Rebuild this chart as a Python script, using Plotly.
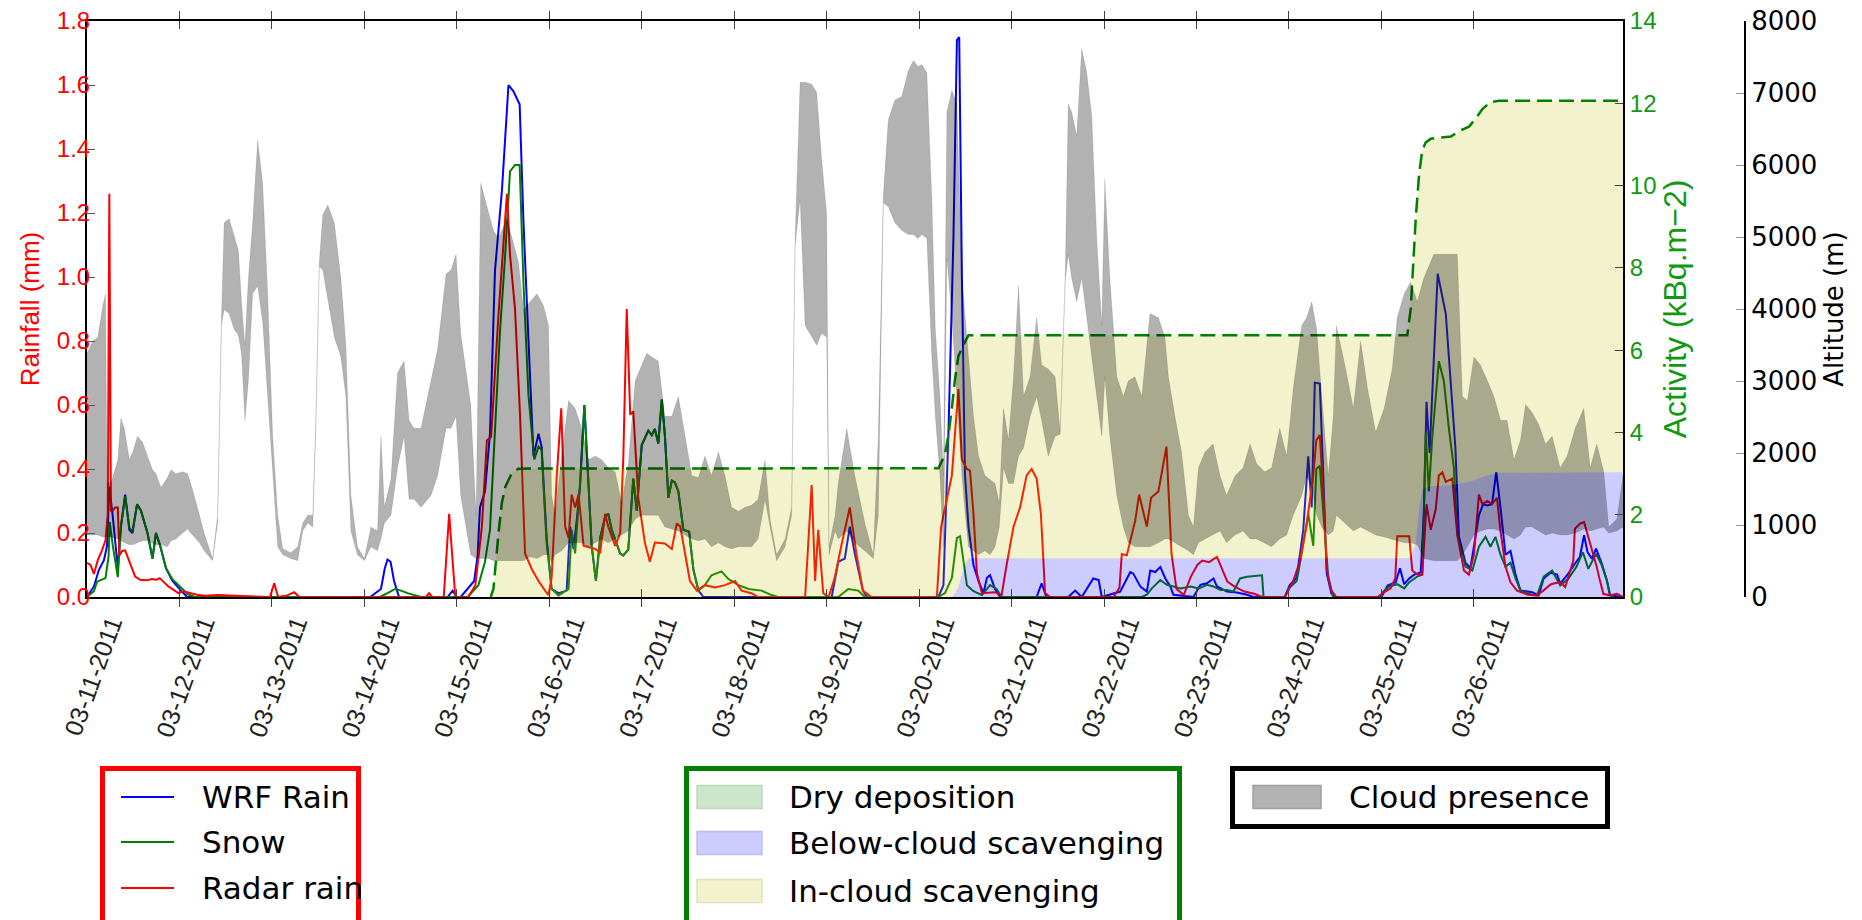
import pandas as pd
import plotly.graph_objects as go

START = pd.Timestamp("2011-03-11 00:00")
END_HOURS = 398.7

# ---------------- data (hours since 2011-03-11 00:00) ----------------
wrf_rain_hours = [
    0, 1.8, 3.1, 4.4, 5.2, 5.8, 6.7, 7.5, 8.0, 8.8, 9.9, 11.0, 11.8, 13.0, 14.0, 15.7, 17.0, 17.9, 19.0, 20.5, 22.2, 24.4, 26.0,
    73.5, 76.3, 77.3, 78.0, 78.8, 79.7, 81.0,
    93.6, 94.9, 96.0, 97.0, 98.8, 100.5, 101.4, 102.0, 103.3, 104.6, 105.9, 107.7, 109.4, 110.7, 112.3, 113.3, 114.6, 115.9,
    117.2, 118.0, 119.3, 120.6, 122.4, 124.5, 125.4, 126.3, 127.2, 128.0, 129.1, 130.2, 131.0, 132.1, 133.2, 134.5, 135.3,
    136.2, 137.5, 138.4, 139.2, 140.5, 141.8, 142.7, 144.0, 145.7, 146.6, 147.4, 148.3, 149.2, 150.0, 150.9, 151.8, 152.6,
    153.5, 154.8, 156.3, 157.4, 158.7, 160.0,
    193.3, 195.0, 196.7, 198.0, 199.3, 201.4, 202.5,
    221.0, 222.3, 223.6, 224.9, 225.8, 226.4, 227.1, 227.9, 228.8, 230.1, 231.4, 232.7, 233.6, 234.4, 235.7, 237.0,
    246.5, 247.8, 249.0,
    254.7, 256.5, 258.2, 261.2, 262.6, 263.4, 268.2, 270.8, 271.6, 273.4, 275.1, 276.0, 277.3, 278.6, 279.9, 281.2, 282.0,
    287.2, 289.0, 290.7, 292.4, 293.3, 295.9, 298.5, 301.1, 302.8,
    310.9, 312.2, 314.0, 315.7, 317.0, 317.9, 318.7, 320.0, 320.9, 321.8, 323.0, 323.9,
    336.0, 337.6, 339.7, 340.8, 341.9, 343.2, 344.5, 346.2, 347.0, 347.7, 348.5, 350.6, 352.7, 354.0, 355.2, 356.1, 357.8,
    359.1, 361.3, 362.4, 363.5, 364.7, 365.8, 366.9, 368.2, 369.5, 370.8, 372.1, 375.1, 376.8, 378.1, 379.9, 381.6, 382.4,
    384.5, 386.2, 387.5, 388.6, 389.5, 390.6, 391.7, 393.2, 394.5, 395.3, 398.7,
]
wrf_rain_mm = [
    0, 0.033, 0.085, 0.115, 0.16, 0.345, 0.25, 0.14, 0.09, 0.22, 0.32, 0.21, 0.20, 0.29, 0.27, 0.20, 0.12, 0.20, 0.16, 0.09, 0.05, 0.02, 0,
    0, 0.025, 0.09, 0.117, 0.11, 0.05, 0,
    0, 0.02, 0, 0, 0.025, 0.05, 0.13, 0.28, 0.33, 0.51, 1.02, 1.27, 1.60, 1.58, 1.54, 1.17, 0.80, 0.44,
    0.51, 0.47, 0.185, 0.025, 0.012, 0.02, 0.22, 0.15, 0.25, 0.35, 0.60, 0.32, 0.16, 0.05, 0.185, 0.25, 0.26,
    0.21, 0.17, 0.136, 0.13, 0.148, 0.37, 0.27, 0.475, 0.52, 0.506, 0.525, 0.48, 0.617, 0.506, 0.31, 0.364, 0.358,
    0.33, 0.21, 0.204, 0.086, 0.02, 0,
    0, 0.11, 0.12, 0.22, 0.136, 0.02, 0,
    0, 0.037, 0.51, 1.12, 1.74, 1.75, 1.0, 0.38, 0.22, 0.10, 0.05, 0.012, 0.06, 0.068, 0.025, 0,
    0, 0.043, 0,
    0, 0.02, 0, 0.058, 0.053, 0, 0.017, 0.078, 0.073, 0.033, 0.017, 0.083, 0.078, 0.094, 0.058, 0.033, 0.007,
    0, 0.038, 0.043, 0.058, 0.033, 0.017, 0.014, 0.007, 0,
    0, 0.037, 0.06, 0.21, 0.44, 0.28, 0.67, 0.667, 0.38, 0.074, 0.012, 0,
    0, 0.036, 0.046, 0.09, 0.04, 0.058, 0.07, 0.077, 0.255, 0.61, 0.45, 1.01, 0.885, 0.66, 0.465, 0.19, 0.107,
    0.09, 0.255, 0.29, 0.286, 0.29, 0.39, 0.28, 0.132, 0.144, 0.07, 0.02, 0.015, 0.005, 0.058, 0.076, 0.07, 0.042,
    0.073, 0.104, 0.125, 0.193, 0.14, 0.12, 0.151, 0.104, 0.052, 0.005, 0,
]

snow_hours = [
    0, 1.8, 2.6, 3.9, 4.8, 5.6, 5.9, 6.7, 8.0, 8.8, 9.9, 11.0, 11.8, 13.0, 14.0, 15.7, 17.0, 17.9, 19.0, 20.5, 22.2, 24.4, 26.0, 28.0,
    76.0, 78.5, 80.0, 81.5, 83.2, 86.7,
    98.8, 101.6, 103.3, 104.6, 105.9, 107.2, 108.5, 109.8, 111.1, 112.3, 113.3, 114.6, 116.1, 117.2, 118.0, 119.3, 120.6,
    122.4, 125.0, 125.8, 126.7, 128.0, 129.1, 130.2, 131.0, 132.1, 133.2, 134.5, 135.3, 136.2, 137.5, 138.4, 139.2, 140.5,
    141.8, 142.7, 144.0, 145.7, 146.6, 147.4, 148.3, 149.2, 150.0, 150.9, 151.8, 152.6, 153.5, 154.8, 156.3, 157.4, 158.7,
    160.4, 162.1, 164.7, 166.5, 169.1, 171.7, 175.1, 177.7, 179.4,
    195.0, 197.6, 200.2, 201.9,
    221.0, 222.7, 224.5, 225.8, 226.6, 227.5, 228.4, 230.1, 232.3, 234.4, 236.1, 237.4,
    273.8, 275.1, 276.4, 278.6, 280.3, 282.0, 283.8, 286.5, 288.6, 290.7, 292.4, 294.2, 295.9, 297.6, 299.3, 301.1, 302.8, 305.0, 305.4,
    310.9, 312.2, 314.0, 315.3, 317.0, 318.3, 319.1, 320.0, 320.9, 322.2, 323.5,
    336.0, 336.3, 338.0, 340.1, 341.9, 343.2, 345.3, 346.6, 347.5, 348.3, 349.2, 350.9, 352.2, 353.5, 354.8, 355.7, 357.8,
    359.6, 361.3, 363.0, 364.3, 365.6, 366.9, 368.2, 369.5, 370.8, 372.1, 374.7, 376.4, 378.1, 380.3, 382.4, 384.5, 386.6,
    388.3, 389.7, 391.7, 393.2, 394.5, 395.3, 396.0,
]
snow_mm = [
    0, 0.018, 0.048, 0.056, 0.059, 0.126, 0.235, 0.16, 0.062, 0.22, 0.315, 0.216, 0.204, 0.29, 0.27, 0.20, 0.12, 0.20, 0.16, 0.09, 0.055, 0.03, 0.01, 0,
    0, 0.015, 0.025, 0.02, 0.012, 0,
    0, 0.037, 0.11, 0.21, 0.53, 0.83, 1.06, 1.33, 1.35, 1.35, 0.98, 0.63, 0.43, 0.47, 0.46, 0.17, 0.025,
    0.005, 0.025, 0.21, 0.136, 0.36, 0.60, 0.32, 0.16, 0.05, 0.185, 0.25, 0.26, 0.21, 0.17, 0.136, 0.13, 0.148,
    0.37, 0.27, 0.475, 0.52, 0.506, 0.525, 0.48, 0.617, 0.506, 0.31, 0.364, 0.358, 0.33, 0.21, 0.204, 0.086, 0.02,
    0.037, 0.068, 0.08, 0.056, 0.037, 0.025, 0.02, 0.006, 0,
    0, 0.025, 0.02, 0,
    0, 0.012, 0.06, 0.185, 0.19, 0.11, 0.037, 0.018, 0.006, 0.037, 0.025, 0,
    0, 0.007, 0.027, 0.053, 0.038, 0.033, 0.027, 0.033, 0.027, 0.038, 0.033, 0.022, 0.022, 0.017, 0.058, 0.063, 0.065, 0.068, 0,
    0, 0.03, 0.05, 0.136, 0.26, 0.16, 0.40, 0.41, 0.26, 0.06, 0,
    0, 0.015, 0.033, 0.04, 0.027, 0.046, 0.064, 0.07, 0.515, 0.33, 0.50, 0.737, 0.675, 0.527, 0.404, 0.194, 0.095,
    0.083, 0.157, 0.188, 0.157, 0.188, 0.132, 0.095, 0.107, 0.058, 0.02, 0.008, 0.005, 0.064, 0.083, 0.036, 0.057, 0.094,
    0.14, 0.088, 0.135, 0.099, 0.052, 0.01, 0,
]

radar_rain_hours = [
    0, 0.9, 1.8, 2.8, 3.9, 4.8, 5.4, 5.8, 6.2, 6.7, 7.3, 8.0, 8.4, 9.1, 9.9, 11.2, 12.5, 13.8, 15.5, 16.8, 18.1, 18.9,
    20.2, 21.1, 22.4, 23.7, 25.0, 26.7, 28.5, 30.5, 34.0, 40.0, 45.0,
    47.5, 48.6, 49.6, 52.0, 53.8, 55.1,
    88.0, 88.8, 89.6, 92.6, 94.0, 95.6,
    99.0, 100.8, 102.5, 103.8, 104.9, 106.8, 108.1, 109.0, 109.8, 111.1, 112.4, 113.7, 115.5, 117.2, 118.9, 119.8, 120.6,
    121.9, 123.1, 124.1, 125.0, 125.8, 126.7, 127.6, 128.9, 130.2, 131.9, 133.2, 134.5, 135.3, 137.1, 138.4, 139.2, 140.1,
    141.0, 141.8, 143.1, 144.8, 146.1, 147.4, 150.0, 151.8, 153.1, 154.0, 155.2, 156.5, 158.3, 160.4, 163.0, 165.6, 168.2,
    169.9, 172.5, 174.2,
    184.6, 186.4, 188.1, 189.0, 189.8, 191.1, 192.5, 194.1, 195.8, 198.0, 199.7, 201.4, 203.6,
    220.6, 221.7, 223.2, 224.5, 225.3, 226.2, 227.1, 228.4, 229.2, 230.1, 231.0, 232.3, 235.7, 237.4, 238.7, 240.5, 242.2,
    243.9, 245.2, 246.5, 247.6, 248.7, 250.0,
    266.5, 268.0, 268.6, 269.9, 271.2, 272.1, 273.1, 274.2, 275.1, 276.2, 278.1, 280.2, 281.5, 282.8, 284.7, 286.5, 288.2,
    289.5, 291.3, 293.3, 294.8, 296.0, 297.8, 300.4, 303.0, 305.1,
    310.9, 313.1, 314.8, 316.5, 318.3, 319.1, 320.0, 320.9, 321.8, 323.0, 324.3,
    335.0, 336.7, 338.4, 339.6, 340.1, 343.2, 344.0, 345.3, 346.6, 347.7, 348.8, 350.1, 350.9, 351.8, 352.7, 354.4, 355.7,
    357.4, 358.7, 360.0, 361.3, 362.2, 363.5, 364.7, 366.0, 366.9, 368.2, 369.5, 371.2, 373.8, 376.4, 378.0, 380.0, 382.4,
    383.7, 384.5, 385.8, 386.2, 387.5, 388.6, 389.7, 391.0, 391.9, 392.7, 393.6, 395.3, 397.1, 398.7,
]
radar_rain_mm = [
    0.107, 0.10, 0.072, 0.115, 0.146, 0.177, 0.26, 1.26, 0.27, 0.27, 0.28, 0.28, 0.13, 0.144, 0.146, 0.105, 0.064, 0.054,
    0.052, 0.056, 0.054, 0.059, 0.043, 0.033, 0.023, 0.012, 0.018, 0.012, 0.007, 0.004, 0.006, 0.003, 0,
    0, 0.043, 0, 0.005, 0.015, 0,
    0, 0.012, 0, 0, 0.26, 0,
    0, 0.037, 0.22, 0.49, 0.50, 0.88, 1.12, 1.26, 1.07, 0.90, 0.57, 0.136, 0.086, 0.05, 0.02, 0.006, 0.06,
    0.37, 0.59, 0.22, 0.185, 0.32, 0.28, 0.32, 0.16, 0.155, 0.15, 0.14, 0.26, 0.22, 0.16, 0.20, 0.43, 0.90,
    0.57, 0.58, 0.31, 0.17, 0.11, 0.17, 0.167, 0.15, 0.23, 0.22, 0.136, 0.05, 0.02, 0.037, 0.03, 0.037, 0.05,
    0.02, 0.012, 0,
    0, 0, 0.35, 0.05, 0.21, 0.012, 0, 0.06, 0.16, 0.28, 0.136, 0.02, 0,
    0, 0.22, 0.31, 0.38, 0.51, 0.65, 0.43, 0.40, 0.395, 0.26, 0.074, 0.012, 0.015, 0.005, 0.10, 0.22, 0.28,
    0.38, 0.40, 0.37, 0.26, 0.012, 0,
    0, 0.03, 0.134, 0.13, 0.195, 0.24, 0.32, 0.27, 0.22, 0.31, 0.33, 0.47, 0.136, 0.025, 0.007, 0.063, 0.10,
    0.114, 0.109, 0.126, 0.083, 0.048, 0.033, 0.017, 0.01, 0,
    0, 0.05, 0.11, 0.22, 0.38, 0.49, 0.506, 0.32, 0.086, 0.02, 0,
    0, 0.015, 0.027, 0.06, 0.19, 0.19, 0.083, 0.07, 0.07, 0.29, 0.21, 0.275, 0.38, 0.39, 0.36, 0.37, 0.194,
    0.083, 0.07, 0.132, 0.32, 0.29, 0.30, 0.29, 0.31, 0.206, 0.095, 0.046, 0.02, 0.008, 0.005, 0.02, 0.04, 0.047,
    0.031, 0.062, 0.114, 0.213, 0.229, 0.234, 0.187, 0.135, 0.094, 0.052, 0.01, 0.005, 0.01, 0,
]

# cloud layer: base and top altitude (m)
cloud_hours = [
    0, 1.5, 2.8, 4.1, 4.8, 5.2, 6.2, 8.0, 8.8, 9.7, 11.0, 11.9, 13.1, 14.4, 15.7, 17.0, 17.9, 19.2, 20.9, 21.8,
    23.1, 24.8, 26.1, 27.4, 29.2, 30.4, 32.6, 33.9, 34.9, 35.6, 36.9, 38.2, 39.3, 40.1, 41.0, 41.9, 43.0, 44.3, 45.6, 46.9,
    48.2, 49.5, 50.8, 52.9, 54.7, 56.0, 57.3, 58.6, 59.4, 60.3, 61.2, 62.5, 64.2, 65.9, 67.2, 68.5, 70.2, 72.0, 73.7, 75.4,
    76.3, 77.2, 78.9, 80.6, 82.3, 83.6, 84.9, 86.7, 89.3, 91.0, 93.2, 94.5, 95.8, 97.0, 99.6,
    101.0, 102.2, 104.2, 105.5, 106.8, 109.0, 112.0, 113.3, 115.0, 116.8, 118.5, 119.8, 120.6, 121.5, 123.2, 125.0,
    126.7, 128.4, 130.2, 131.9, 133.6, 135.3, 137.1, 138.8, 140.5, 142.3, 144.0, 145.3, 146.6, 148.3, 150.0, 151.8,
    153.5, 155.2, 157.0, 158.7, 160.4, 162.1, 163.9, 165.6, 167.3, 169.1, 170.8, 172.5, 174.2, 176.0, 177.3, 179.0,
    181.2, 182.9, 183.8, 185.1, 186.4, 188.1, 189.4, 190.7, 192.0, 192.6, 194.2, 195.0, 197.2, 199.3, 201.9, 204.1,
    205.4, 206.7, 208.0, 209.7, 211.5, 213.2, 214.5, 215.7,
    216.7, 218.0, 219.3, 220.2, 221.4, 222.3, 223.2, 224.5, 225.8, 227.1, 228.0, 228.8, 230.1, 231.4, 233.1, 234.4,
    235.7, 236.8, 237.9, 239.2, 240.5, 241.8, 243.1, 244.8, 246.5, 247.8, 249.5, 251.3, 252.6, 253.9, 254.7, 255.6,
    256.9, 258.2, 259.5, 260.8, 262.1, 263.4, 264.2, 265.5, 267.3, 269.0, 270.3, 272.0, 273.8, 275.9, 278.1, 279.8,
    280.7, 282.4, 284.1, 285.9, 287.2, 288.5, 290.2, 292.3, 294.1, 295.8, 298.0, 300.1, 301.9, 303.6, 305.7, 307.5,
    309.6, 311.4, 313.1, 315.3, 316.6, 317.9, 319.2, 320.5, 322.2, 323.5, 324.3, 326.5, 328.7,
    330.6, 332.4, 334.5, 336.7, 338.8, 340.1, 341.9, 343.6, 345.3, 347.0, 349.6, 352.7, 355.7, 357.0, 358.3, 360.0,
    361.7, 363.5, 365.2, 366.9, 368.6, 370.4, 372.1, 373.4, 375.1, 376.8, 378.6, 380.3, 382.4, 384.2, 386.3, 388.5,
    390.2, 391.9, 393.7, 395.0, 397.1, 398.7,
]
cloud_top_m = [
    3387, 3552, 3607, 4046, 4211, 1603, 1576, 1905, 2481, 2344, 1905, 2015, 2234, 2152, 1960, 1768, 1713, 1521, 1658, 1768,
    1713, 1740, 1713, 1493, 1136, 889, 533, 1136, 3881, 5199, 5254, 5034, 4815, 4101, 3497, 4430, 5199, 6352, 5748, 4211,
    2234, 1136, 670, 615, 697, 1027, 1136, 1136, 2454, 4650, 5309, 5446, 5199, 4430, 3497, 1411, 697, 533, 972, 917,
    2234, 1246, 1631, 3113, 3278, 2454, 2344, 2344, 3003, 3442, 4485, 4540, 4760, 3662, 2674,
    1136, 5748, 5364, 5089, 4979, 5254, 4650, 3991, 4101, 4211, 4046, 3772, 1411, 1136, 1960, 2729,
    2619, 2344, 1905, 1960, 1905, 1795, 1740, 1301, 1850, 3003, 3223, 3387, 3332, 3278, 2509, 2509,
    2783, 2234, 1685, 1658, 1960, 1685, 2015, 1685, 1246, 1191, 1246, 1274, 1356, 1905, 1082, 587,
    807, 1246, 4979, 7148, 7148, 7121, 7011, 6077, 5309, 697, 1136, 1576, 2344, 1685, 1027, 587,
    2234, 5583, 6626, 6901, 6956, 7313, 7450, 7368,
    7395, 7285, 5528, 3717, 2783, 1685, 6736, 7038, 6846, 4430, 3881, 3332, 2509, 1960, 1685, 1631,
    1576, 1301, 2619, 2180, 3058, 4321, 2783, 3058, 3881, 3223, 3168, 3058, 2289, 4430, 6846, 6736,
    6407, 7615, 7285, 6681, 4979, 3772, 5803, 4430, 3058, 2783, 3003, 3058, 2783, 3936, 3881, 3607,
    3058, 2509, 2015, 1136, 972, 1795, 2015, 2125, 1685, 1411, 1685, 1795, 2125, 1850, 1740, 1795,
    2344, 1960, 2893, 3772, 3881, 4101, 3717, 2783, 1685, 2509, 3772, 3223, 2619,
    3552, 2893, 2289, 2619, 3168, 3881, 4211, 4376, 4101, 4430, 4760, 4760, 4760, 2783, 2729, 3332,
    3223, 3003, 2783, 2454, 2454, 1905, 2180, 2674, 2564, 2399, 2125, 2234, 1795, 1960, 2344, 2619,
    1795, 2125, 1740, 972, 1082, 1685,
]
cloud_base_m = [
    862, 862, 862, 834, 834, 834, 834, 807, 780, 752, 725, 725, 752, 780, 780, 752, 725, 725, 697, 780,
    807, 889, 944, 862, 752, 642, 505, 1027, 3772, 3991, 3936, 3717, 3634, 3387, 2454, 3003, 4211, 4321, 3827, 2783,
    1685, 697, 587, 533, 505, 917, 1027, 972, 2344, 4595, 4540, 4156, 3607, 3332, 2783, 917, 587, 505, 697, 642,
    807, 1027, 1136, 1795, 2234, 1356, 1356, 1246, 1411, 1685, 2344, 2344, 2509, 1411, 587,
    533, 533, 533, 505, 505, 505, 505, 505, 560, 533, 587, 587, 478, 587, 642, 752,
    752, 752, 697, 752, 807, 752, 807, 862, 917, 1082, 1136, 1136, 1136, 1136, 972, 944,
    917, 862, 807, 780, 807, 697, 752, 697, 670, 697, 697, 697, 807, 1356, 972, 505,
    697, 1136, 4870, 5528, 3772, 3607, 3497, 3662, 3607, 587, 917, 807, 917, 752, 642, 533,
    1136, 5473, 5419, 5199, 5089, 5034, 5034, 4979,
    5034, 4979, 3332, 2509, 1685, 697, 4705, 3881, 2783, 1685, 1136, 697, 642, 587, 642, 587,
    697, 972, 1795, 1576, 1576, 1960, 2070, 2509, 2783, 2454, 1960, 2234, 2262, 4376, 4760, 4430,
    4101, 4430, 3881, 3332, 2783, 2234, 3058, 2234, 1411, 972, 752, 697, 697, 697, 752, 807,
    807, 752, 697, 642, 587, 752, 807, 862, 917, 752, 862, 917, 807, 807, 752, 697,
    807, 862, 1136, 1411, 1685, 1521, 1136, 972, 862, 917, 1136, 1027, 917,
    972, 917, 862, 834, 807, 780, 752, 752, 725, 533, 505, 505, 505, 587, 697, 862,
    917, 944, 944, 917, 862, 807, 862, 972, 972, 917, 862, 889, 862, 862, 889, 944,
    917, 944, 972, 889, 917, 972,
]

# cumulative deposited activity (kBq.m-2)
activity_hours = [
    104.8, 105.5, 106.8, 107.7, 108.6, 110.2, 112.0, 221.0, 222.7, 223.6, 224.5, 225.3, 226.2, 227.1, 227.9, 228.8,
    342.7, 343.6, 344.0, 344.9, 345.8, 346.6, 347.5, 348.8, 354.0, 356.5, 358.7, 360.4, 362.2, 364.3, 366.5, 398.7,
]
activity_total_kbq = [
    0, 0.2, 1.54, 2.3, 2.68, 3.0, 3.12, 3.13, 3.46, 3.94, 4.6, 5.3, 5.86, 6.05, 6.2, 6.36,
    6.36, 7.0, 7.7, 9.2, 10.3, 10.86, 11.05, 11.14, 11.19, 11.34, 11.43, 11.62, 11.86, 12.03, 12.06, 12.06,
]
below_cloud_kbq = [
    0, 0, 0, 0, 0, 0, 0, 0, 0, 0, 0, 0.1, 0.25, 0.55, 0.8, 0.94,
    0.94, 0.97, 1.1, 1.3, 2.2, 2.6, 2.65, 2.69, 2.72, 2.76, 2.8, 2.85, 2.92, 2.98, 3.02, 3.03,
]

tick_dates = ["2011-03-11", "2011-03-12", "2011-03-13", "2011-03-14", "2011-03-15", "2011-03-16",
              "2011-03-17", "2011-03-18", "2011-03-19", "2011-03-20", "2011-03-21", "2011-03-22",
              "2011-03-23", "2011-03-24", "2011-03-25", "2011-03-26"]
tick_labels = ["03-11-2011", "03-12-2011", "03-13-2011", "03-14-2011", "03-15-2011", "03-16-2011",
               "03-17-2011", "03-18-2011", "03-19-2011", "03-20-2011", "03-21-2011", "03-22-2011",
               "03-23-2011", "03-24-2011", "03-25-2011", "03-26-2011"]

assert len(wrf_rain_hours) == len(wrf_rain_mm)
assert len(snow_hours) == len(snow_mm)
assert len(radar_rain_hours) == len(radar_rain_mm)
assert len(cloud_hours) == len(cloud_top_m) == len(cloud_base_m)
assert len(activity_hours) == len(activity_total_kbq) == len(below_cloud_kbq)


def to_time(hours):
    return START + pd.to_timedelta(hours, unit="h")


# ---------------- geometry (viewport pixels) ----------------
W, H = 1862, 920
PLOT_L, PLOT_T, PLOT_B, PLOT_R = 87, 21, 597, 1623
PAPER_R = 1760
ML, MT = PLOT_L, PLOT_T
MR, MB = W - PAPER_R, H - PLOT_B
PW, PH = W - ML - MR, H - MT - MB
X_DOMAIN_END = (PLOT_R - PLOT_L) / PW
ALT_POS = (1745 - PLOT_L) / PW


def px(x):
    return (x - PLOT_L) / PW


def py(y):
    return (PLOT_B - y) / PH


fig = go.Figure()

# rainfall lines (left axis)
fig.add_trace(go.Scatter(x=to_time(wrf_rain_hours), y=wrf_rain_mm, mode="lines", name="WRF Rain",
                         line=dict(color="#0000ff", width=2), yaxis="y", showlegend=False))
fig.add_trace(go.Scatter(x=to_time(snow_hours), y=snow_mm, mode="lines", name="Snow",
                         line=dict(color="#008000", width=2), yaxis="y", showlegend=False))
fig.add_trace(go.Scatter(x=to_time(radar_rain_hours), y=radar_rain_mm, mode="lines", name="Radar rain",
                         line=dict(color="#ff0000", width=2), yaxis="y", showlegend=False))

# deposition (activity axis)
fig.add_trace(go.Scatter(x=to_time(activity_hours), y=below_cloud_kbq, mode="lines", name="Below-cloud scavenging",
                         line=dict(width=0, color="rgba(0,0,255,0)"), fill="tozeroy",
                         fillcolor="rgba(0,0,255,0.2)", yaxis="y2", showlegend=False))
fig.add_trace(go.Scatter(x=to_time(activity_hours), y=activity_total_kbq, mode="lines", name="In-cloud scavenging",
                         line=dict(width=2.5, color="#008000", dash="15px,7px"), fill="tonexty",
                         fillcolor="rgba(191,191,0,0.2)", yaxis="y2", showlegend=False))

# cloud presence (altitude axis)
fig.add_trace(go.Scatter(x=to_time(cloud_hours), y=cloud_base_m, mode="lines", name="Cloud base",
                         line=dict(width=0.8, color="rgba(0,0,0,0.12)"), yaxis="y3", showlegend=False))
fig.add_trace(go.Scatter(x=to_time(cloud_hours), y=cloud_top_m, mode="lines", name="Cloud presence",
                         line=dict(width=0.8, color="rgba(0,0,0,0.12)"), fill="tonexty",
                         fillcolor="rgba(0,0,0,0.3)", yaxis="y3", showlegend=False))

TICKFONT = "Liberation Sans, Arial, sans-serif"
fig.update_layout(
    width=W, height=H,
    margin=dict(l=ML, r=MR, t=MT, b=MB, autoexpand=False),
    paper_bgcolor="white", plot_bgcolor="white",
    showlegend=False,
    xaxis=dict(
        type="date", range=[to_time(0), to_time(END_HOURS)], domain=[0, X_DOMAIN_END],
        tickvals=tick_dates, ticktext=tick_labels, tickangle=-70,
        ticks="inside", ticklen=8, tickcolor="#444", tickwidth=1,
        showline=True, linecolor="black", linewidth=2, mirror="allticks",
        showgrid=False, zeroline=False, ticklabelshift=24,
        tickfont=dict(family=TICKFONT, size=25, color="#222"),
    ),
    yaxis=dict(
        range=[0, 1.8], dtick=0.2, tick0=0, tickformat=".1f",
        ticks="inside", ticklen=8, tickcolor="#555",
        showline=True, linecolor="black", linewidth=2,
        showgrid=False, zeroline=False, ticklabelstandoff=-10, ticklabeloverflow="allow",
        tickfont=dict(family=TICKFONT, size=24, color="#ff0000"),
        title=dict(text="Rainfall (mm)", font=dict(family=TICKFONT, size=26, color="#ff0000"), standoff=10),
    ),
    yaxis2=dict(
        overlaying="y", side="right", anchor="x",
        range=[0, 14], dtick=2, tick0=0,
        ticks="inside", ticklen=8, tickcolor="#444",
        showline=True, linecolor="black", linewidth=2,
        showgrid=False, zeroline=False, ticklabeloverflow="allow",
        tickfont=dict(family=TICKFONT, size=24, color="#119911"),
        title=dict(text="Activity (kBq.m−2)", font=dict(family=TICKFONT, size=32, color="#119911"), standoff=6),
    ),
    yaxis3=dict(
        overlaying="y", side="right", anchor="free", position=ALT_POS,
        range=[0, 8000], dtick=1000, tick0=0,
        ticks="inside", ticklen=8, tickcolor="#999",
        showline=True, linecolor="black", linewidth=2,
        showgrid=False, zeroline=False, ticklabeloverflow="allow",
        tickfont=dict(family="DejaVu Sans", size=26, color="black"),
        title=dict(text="Altitude (m)", font=dict(family="DejaVu Sans", size=26, color="black"), standoff=7),
    ),
)

# ---------------- boxed legends ----------------
shapes = []
annotations = []
LEGFONT = dict(family="DejaVu Sans", size=31, color="black")


def box(x0, y0, x1, y1, color, width):
    shapes.append(dict(type="rect", xref="paper", yref="paper", x0=px(x0), x1=px(x1), y0=py(y1), y1=py(y0),
                       line=dict(color=color, width=width), fillcolor="rgba(0,0,0,0)", layer="above"))


def label(x, y, text):
    annotations.append(dict(x=px(x), y=py(y), xref="paper", yref="paper", text=text, showarrow=False,
                            xanchor="left", yanchor="middle", font=LEGFONT))


def swatch(x0, y0, x1, y1, fill, edge):
    shapes.append(dict(type="rect", xref="paper", yref="paper", x0=px(x0), x1=px(x1), y0=py(y1), y1=py(y0),
                       line=dict(color=edge, width=1.5), fillcolor=fill, layer="above"))


def legline(x0, x1, y, color):
    shapes.append(dict(type="line", xref="paper", yref="paper", x0=px(x0), x1=px(x1), y0=py(y), y1=py(y),
                       line=dict(color=color, width=2), layer="above"))


# rainfall legend
box(102.5, 768.5, 358.5, 940, "#ff0000", 5)
for yy, col, txt in [(797, "#0000ff", "WRF Rain"), (842, "#008000", "Snow"), (888, "#ff0000", "Radar rain")]:
    legline(121, 174, yy, col)
    label(200, yy, txt)

# deposition legend
box(686.5, 768.5, 1179.5, 940, "#008000", 5)
for yy, fill, edge, txt in [(797, "rgb(204,230,204)", "rgb(190,215,190)", "Dry deposition"),
                            (843, "rgb(204,204,255)", "rgb(188,188,238)", "Below-cloud scavenging"),
                            (891, "rgb(242,242,204)", "rgb(225,225,190)", "In-cloud scavenging")]:
    swatch(697, yy - 11.5, 762, yy + 11.5, fill, edge)
    label(787, yy, txt)

# cloud legend
box(1232.5, 768.5, 1607.5, 826.5, "black", 5)
swatch(1253, 785.5, 1321, 808.5, "rgb(179,179,179)", "rgb(160,160,160)")
label(1347, 797, "Cloud presence")

fig.update_layout(shapes=shapes, annotations=annotations)

fig.write_html("out.html", config={"displayModeBar": False},
               post_script="document.body.style.margin='0';")
